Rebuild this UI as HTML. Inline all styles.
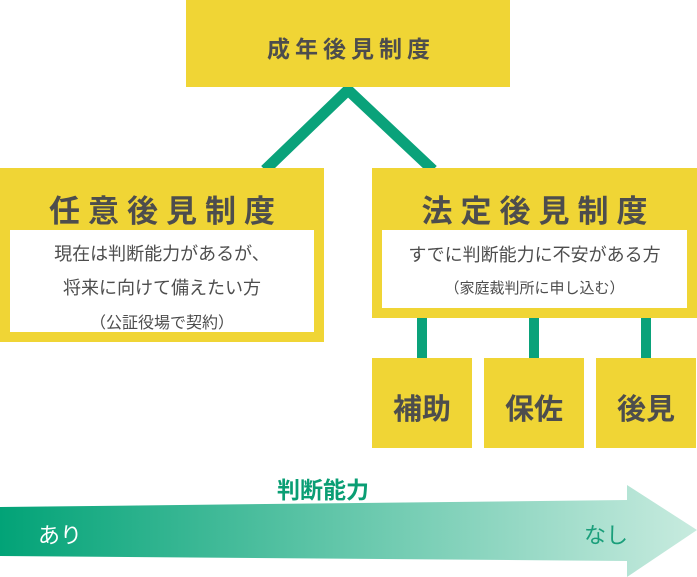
<!DOCTYPE html>
<html><head><meta charset="utf-8"><style>
body{margin:0;width:697px;height:577px;position:relative;background:#fff;font-family:"Liberation Sans","Noto Sans CJK JP",sans-serif;overflow:hidden}
.y{position:absolute;background:#f0d535}
.w{position:absolute;background:#fff}
.t{position:absolute;text-align:center;color:#4d4d4d}
</style></head><body>
<svg width="697" height="577" style="position:absolute;left:0;top:0">
<defs><linearGradient id="g" x1="0" x2="1"><stop offset="0" stop-color="#02a377"/><stop offset="1" stop-color="#c8ebdf"/></linearGradient></defs>
<polyline points="265,170 348,90 433,170" fill="none" stroke="#0aa27a" stroke-width="11"/>
<rect x="417" y="316" width="10" height="44" fill="#0aa27a"/>
<rect x="529" y="316" width="10" height="44" fill="#0aa27a"/>
<rect x="641" y="316" width="10" height="44" fill="#0aa27a"/>
<polygon points="0,507 627,500 627,485 697,530 627,577 627,561 0,556" fill="url(#g)"/>
</svg>
<div class="y" style="left:186px;top:0;width:324px;height:87px"></div>
<div class="t" style="left:189px;top:30px;width:324px;font-size:23px;font-weight:bold;letter-spacing:5px">成年後見制度</div>
<div class="y" style="left:0;top:168px;width:324px;height:174px"></div>
<div class="t" style="left:4px;top:186px;width:324px;font-size:31px;font-weight:bold;letter-spacing:8px">任意後見制度</div>
<div class="w" style="left:10px;top:230px;width:304px;height:102px"></div>
<div class="t" style="left:10px;top:237px;width:304px;font-size:18px;line-height:34px">現在は判断能力があるが、<br>将来に向けて備えたい方<br><span style="font-size:16px">（公証役場で契約）</span></div>
<div class="y" style="left:372px;top:168px;width:325px;height:150px"></div>
<div class="t" style="left:376px;top:186px;width:325px;font-size:31px;font-weight:bold;letter-spacing:8px">法定後見制度</div>
<div class="w" style="left:382px;top:230px;width:305px;height:78px"></div>
<div class="t" style="left:382px;top:239px;width:305px;font-size:18px;line-height:32px">すでに判断能力に不安がある方<br><span style="font-size:15px">（家庭裁判所に申し込む）</span></div>
<div class="y" style="left:372px;top:358px;width:100px;height:90px"></div>
<div class="y" style="left:484px;top:358px;width:100px;height:90px"></div>
<div class="y" style="left:596px;top:358px;width:100px;height:90px"></div>
<div class="t" style="left:372px;top:386px;width:100px;font-size:29px;font-weight:bold">補助</div>
<div class="t" style="left:484px;top:386px;width:100px;font-size:29px;font-weight:bold">保佐</div>
<div class="t" style="left:596px;top:386px;width:100px;font-size:29px;font-weight:bold">後見</div>
<div class="t" style="left:248px;top:471px;width:150px;font-size:23px;font-weight:bold;color:#0a9e74">判断能力</div>
<div class="t" style="left:30px;top:518px;width:60px;font-size:22px;color:#fff">あり</div>
<div class="t" style="left:576px;top:518px;width:60px;font-size:22px;color:#1a9e7a">なし</div>
</body></html>
